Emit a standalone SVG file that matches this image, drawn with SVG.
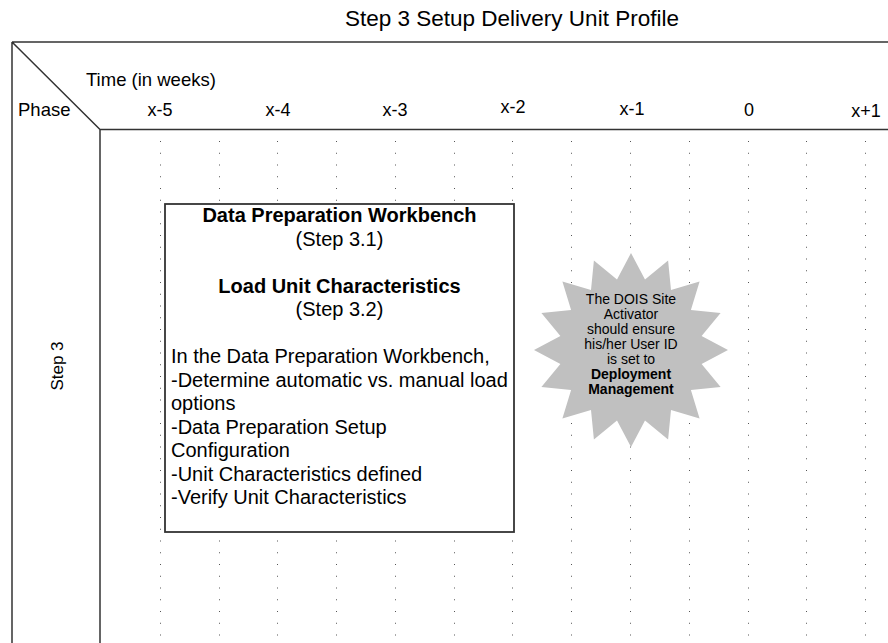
<svg xmlns="http://www.w3.org/2000/svg" width="888" height="643" viewBox="0 0 888 643">
<style>
text{font-family:"Liberation Sans",Arial,sans-serif;fill:#000}
.frame{stroke:#333;stroke-width:1.5;fill:none}
.dots{stroke:#555;stroke-width:1;stroke-dasharray:1 10.75;fill:none}
.hdr{font-size:18.5px}
.col{font-size:18px;text-anchor:middle}
.box{font-size:20px}
.b{font-weight:bold}
.star{font-size:14px;text-anchor:middle}
</style>
<rect width="888" height="643" fill="#fff"/>
<text x="345" y="26" style="font-size:22.5px">Step 3 Setup Delivery Unit Profile</text>
<g id="grid">
<path class="dots" d="M160.5 141V643M219.5 141V643M277.5 141V643M336.5 141V643M395.5 141V643M454.5 141V643M512.5 141V643M571.5 141V643M630.5 141V643M689.5 141V643M748.5 141V643M806.5 141V643M865.5 141V643"/>
</g>
<g id="frame">
<path class="frame" d="M12 42H888M12 42V643M12 42L100 129.5M100 129.5H888M100 129.5V643"/>
</g>
<g id="header">
<text class="hdr" x="86" y="86">Time (in weeks)</text>
<text class="hdr" x="18" y="116">Phase</text>
<text class="col" x="160" y="116">x-5</text>
<text class="col" x="278" y="116">x-4</text>
<text class="col" x="395" y="116">x-3</text>
<text class="col" x="513" y="113">x-2</text>
<text class="col" x="632" y="115">x-1</text>
<text class="col" x="749" y="116">0</text>
<text class="col" x="866" y="117">x+1</text>
</g>
<g id="phase-step3">
<text x="63" y="366" text-anchor="middle" transform="rotate(-90 63 366)" style="font-size:17px">Step 3</text>
</g>
<g id="step-box">
<rect x="165" y="204" width="349" height="328" fill="#fff" stroke="#333" stroke-width="1.8"/>
<text class="box b" x="339.5" y="222" text-anchor="middle">Data Preparation Workbench</text>
<text class="box" x="339.5" y="245.5" text-anchor="middle">(Step 3.1)</text>
<text class="box b" x="339.5" y="292.5" text-anchor="middle">Load Unit Characteristics</text>
<text class="box" x="339.5" y="316" text-anchor="middle">(Step 3.2)</text>
<text class="box" x="171" y="363">In the Data Preparation Workbench,</text>
<text class="box" x="171" y="386.5">-Determine automatic vs. manual load</text>
<text class="box" x="171" y="410">options</text>
<text class="box" x="171" y="433.5">-Data Preparation Setup</text>
<text class="box" x="171" y="457">Configuration</text>
<text class="box" x="171" y="480.5">-Unit Characteristics defined</text>
<text class="box" x="171" y="504">-Verify Unit Characteristics</text>
</g>
<g id="note-star">
<polygon fill="#c0c0c0" points="631,253 645,279.4 668.1,260.4 671,290.1 699.6,281.4 690.9,310 720.6,312.9 701.6,336 728,350 701.6,364 720.6,387.1 690.9,390 699.6,418.6 671,409.9 668.1,439.6 645,420.6 631,447 617,420.6 593.9,439.6 591,409.9 562.4,418.6 571.1,390 541.4,387.1 560.4,364 534,350 560.4,336 541.4,312.9 571.1,310 562.4,281.4 591,290.1 593.9,260.4 617,279.4"/>
<text class="star" x="631" y="304">The DOIS Site</text>
<text class="star" x="631" y="319">Activator</text>
<text class="star" x="631" y="334">should ensure</text>
<text class="star" x="631" y="349">his/her User ID</text>
<text class="star" x="631" y="364">is set to</text>
<text class="star b" x="631" y="379">Deployment</text>
<text class="star b" x="631" y="394">Management</text>
</g>
</svg>
